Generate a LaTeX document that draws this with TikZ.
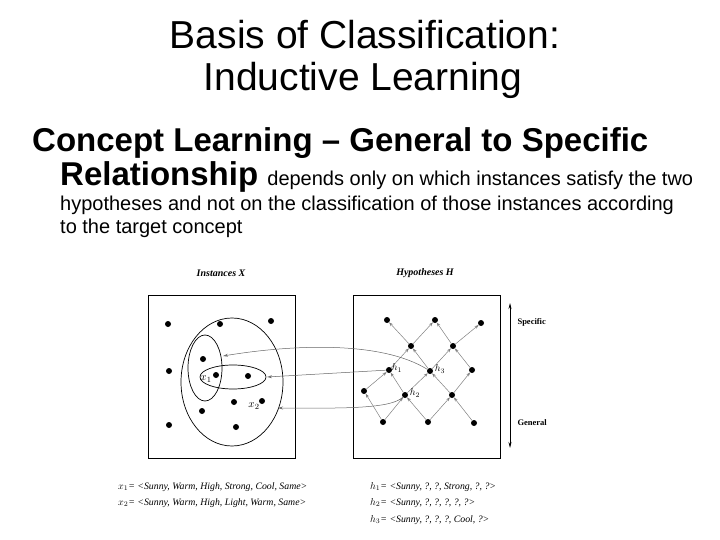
\documentclass[tikz,border=0pt]{standalone}
\usepackage{fontspec}
\setmainfont{Liberation Sans}
\newfontfamily\figfont{Liberation Serif}
\usetikzlibrary{arrows.meta}
\begin{document}
\begin{tikzpicture}[x=1pt,y=-1pt,
  dot/.style={circle,fill=black,inner sep=0pt,minimum size=6pt},
  lat/.style={gray,line width=0.5pt,-{Stealth[length=4pt,width=3pt]}},
  ref/.style={gray!80!black,line width=0.5pt,-{Stealth[length=5pt,width=3pt,open]}},
  ftxt/.style={font=\figfont\itshape\fontsize{9.8}{10}\selectfont,anchor=west,inner sep=0pt}]
\useasboundingbox (0,0) rectangle (720,540);
\node (t1) at (365,35) {\fontsize{39}{42}\selectfont Basis of Classification:};
\node (t2) at (363,80) {\fontsize{39}{42}\selectfont Inductive Learning};
\node[anchor=west,inner sep=0pt] (c1) at (32,143) {\fontsize{33}{36}\selectfont\bfseries Concept Learning -- General to Specific};
\node[anchor=west,inner sep=0pt] (c2) at (60,177) {\fontsize{33}{36}\selectfont\bfseries Relationship \mdseries\fontsize{20}{22}\selectfont depends only on which instances satisfy the two};
\node[anchor=west,inner sep=0pt] (c3) at (60,205) {\fontsize{20}{22}\selectfont hypotheses and not on the classification of those instances according};
\node[anchor=west,inner sep=0pt] (c4) at (60,228) {\fontsize{20}{22}\selectfont to the target concept};
% boxes
\draw[line width=0.8pt] (148,295) rectangle (295,458);
\draw[line width=0.8pt] (353,295) rectangle (500,458);
\node[font=\figfont\itshape\bfseries\fontsize{10}{10}\selectfont] (ix) at (221,273) {Instances X};
\node[font=\figfont\itshape\bfseries\fontsize{10}{10}\selectfont] (hh) at (425,273) {Hypotheses H};
% instances
\foreach \p in {(168,324),(220,324),(271,321),(203,359),(169,371),(248,376),(234,402),(202,411),(169,425),(236,427)} \node[dot] at \p {};
\node[dot] (x1) at (216,375) {};
\node[dot] (x2) at (262,401) {};
\draw[line width=0.7pt] (232,382) ellipse (51 and 64);
\draw[line width=0.7pt] (205,368) ellipse (17 and 33);
\draw[line width=0.7pt] (233,377) ellipse (33 and 12);
\node[font=\figfont\itshape\fontsize{11}{11}\selectfont] at (206,379) {$x_1$};
\node[font=\figfont\itshape\fontsize{11}{11}\selectfont] at (254,406) {$x_2$};
% hypotheses lattice
\node[dot] (s1) at (387,320) {};
\node[dot] (s2) at (435,320) {};
\node[dot] (s3) at (481,323) {};
\node[dot] (a1) at (411,346) {};
\node[dot] (a2) at (453,346) {};
\node[dot] (h1) at (389,370) {};
\node[dot] (h3) at (430,371) {};
\node[dot] (b3) at (472,370) {};
\node[dot] (c1d) at (364,391) {};
\node[dot] (h2) at (405,395) {};
\node[dot] (c3d) at (452,395) {};
\node[dot] (g1) at (383,422) {};
\node[dot] (g2) at (428,422) {};
\node[dot] (g3) at (474,423) {};
\foreach \a/\b in {g1/c1d,g1/h2,g2/h2,g2/c3d,g3/c3d,c1d/h1,h2/h1,h2/h3,c3d/h3,c3d/b3,h1/a1,h3/a1,h3/a2,b3/a2,a1/s1,a1/s2,a2/s2,a2/s3}
  \draw[lat] (\a) -- (\b);
\node[font=\figfont\itshape\fontsize{10}{10}\selectfont] at (397,368) {$h_1$};
\node[font=\figfont\itshape\fontsize{10}{10}\selectfont] at (415,393) {$h_2$};
\node[font=\figfont\itshape\fontsize{10}{10}\selectfont] at (440,369) {$h_3$};
\coordinate (e3) at (223,356);
\coordinate (e1) at (267,377);
\coordinate (e2) at (278,408);
\draw[ref] (h3) .. controls (380,340) and (290,345) .. (e3);
\draw[ref] (h1) -- (e1);
\draw[ref] (h2) .. controls (390,410) and (330,408) .. (e2);
% scale
\coordinate (sp) at (510,303);
\coordinate (ge) at (510,448);
\draw[line width=0.7pt,{Stealth[length=6pt,width=3pt]}-{Stealth[length=6pt,width=3pt]}] (sp) -- (ge);
\node[font=\figfont\bfseries\fontsize{8.5}{10}\selectfont,anchor=west] at (514,322) {Specific};
\node[font=\figfont\bfseries\fontsize{8.5}{10}\selectfont,anchor=west] at (514,423) {General};
% bottom texts
\node[ftxt] at (118,487) {$x_1$= <Sunny, Warm, High, Strong, Cool, Same>};
\node[ftxt] at (118,503) {$x_2$= <Sunny, Warm, High, Light, Warm, Same>};
\node[ftxt] at (370,487) {$h_1$= <Sunny, ?, ?, Strong, ?, ?>};
\node[ftxt] at (370,503) {$h_2$= <Sunny, ?, ?, ?, ?, ?>};
\node[ftxt] at (370,520) {$h_3$= <Sunny, ?, ?, ?, Cool, ?>};
\end{tikzpicture}
\end{document}
